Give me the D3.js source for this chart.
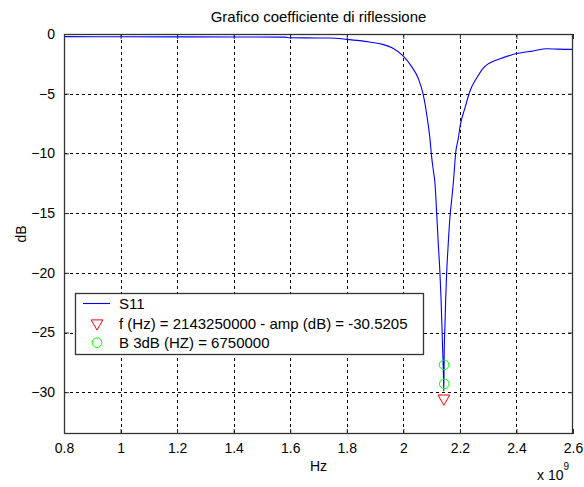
<!DOCTYPE html>
<html><head><meta charset="utf-8">
<script src="https://cdn.jsdelivr.net/npm/d3@7"></script>
<style>
html,body{margin:0;padding:0;background:#fff;}
svg{display:block;font-family:"Liberation Sans",Arial,sans-serif;}
</style></head>
<body>
<script>
// ---- data ----
const freqGHz = [0.80,1.00,1.20,1.40,1.58,1.60,1.70,1.74,1.80,1.88,1.93,1.96,2.00,2.03,2.053,2.07,2.083,2.094,2.100,2.106,2.112,2.118,2.1235,2.1295,2.133,2.1366,2.139,2.141,2.1425,2.14325,2.1447,2.1471,2.1497,2.1532,2.1589,2.1649,2.1709,2.1766,2.1862,2.1943,2.2003,2.218,2.2357,2.2594,2.2827,2.30,2.3123,2.3534,2.4008,2.4595,2.5069,2.55,2.60];
const s11dB = [-0.22,-0.23,-0.24,-0.25,-0.26,-0.32,-0.33,-0.34,-0.45,-0.67,-0.89,-1.15,-1.85,-2.75,-3.73,-5.04,-6.79,-8.74,-10.27,-11.41,-12.52,-15.03,-17.53,-20.03,-21.99,-24.49,-26.44,-27.8,-29.3,-29.9,-26.44,-24.49,-22.26,-20.03,-17.53,-15.31,-13.91,-12.52,-9.74,-8.76,-7.78,-6.19,-4.77,-3.69,-2.85,-2.50,-2.35,-1.98,-1.64,-1.42,-1.23,-1.27,-1.29];
const minFreq = [2.14325e9];
const minAmp = [-30.5205];
const bwFreq = [2.1442e9, 2.1448e9];
const bwAmp = [-27.71, -29.30];
const xTicks = [0.8,1,1.2,1.4,1.6,1.8,2,2.2,2.4,2.6];
const yTicks = [0,-5,-10,-15,-20,-25,-30];
const legendLabels = ["S11","f (Hz) = 2143250000 - amp (dB) = -30.5205","B 3dB (HZ) = 6750000"];
const titleText = "Grafico coefficiente di riflessione";

// ---- chart ----
const W=584,H=487;
const L=64,R=573,T=34,B=434;
const svg=d3.select("body").append("svg").attr("width",W).attr("height",H);
const x=d3.scaleLinear().domain([0.8e9,2.6e9]).range([L,R]);
const y=d3.scaleLinear().domain([-33.5,0]).range([B,T]);
const boxCol="#333";

// grid
const g=svg.append("g");
g.selectAll(".gx").data(xTicks.slice(1,-1)).enter().append("line")
 .attr("x1",d=>Math.round(x(d*1e9))+0.5).attr("x2",d=>Math.round(x(d*1e9))+0.5)
 .attr("y1",T).attr("y2",B).attr("stroke","#000").attr("stroke-dasharray","3,3");
g.selectAll(".gy").data(yTicks.filter(d=>d!==0)).enter().append("line")
 .attr("y1",d=>Math.round(y(d))+0.5).attr("y2",d=>Math.round(y(d))+0.5)
 .attr("x1",L).attr("x2",R).attr("stroke","#000").attr("stroke-dasharray","3,3");

// axes (inward ticks on all sides)
const fmtX=d=>d3.format("~g")(d/1e9);
const xb=d3.axisBottom(x).tickValues(xTicks.map(d=>d*1e9)).tickSizeInner(-5).tickSizeOuter(0).tickPadding(9).tickFormat(fmtX);
const xt=d3.axisTop(x).tickValues(xTicks.map(d=>d*1e9)).tickSizeInner(-5).tickSizeOuter(0).tickFormat("");
const yl=d3.axisLeft(y).tickValues(yTicks).tickSizeInner(-5).tickSizeOuter(0).tickPadding(9).tickFormat(d=>d3.format("d")(d));
const yr=d3.axisRight(y).tickValues(yTicks).tickSizeInner(-5).tickSizeOuter(0).tickFormat("");
function style(sel){sel.select(".domain").remove();sel.selectAll("line").attr("stroke",boxCol);sel.selectAll("text").attr("fill","#000").style("font-size","14px").style("font-family","Liberation Sans, Arial, sans-serif");}
svg.append("g").attr("transform",`translate(0,${B})`).call(xb).call(style);
svg.append("g").attr("transform",`translate(0,${T})`).call(xt).call(style);
svg.append("g").attr("transform",`translate(${L},0)`).call(yl).call(style);
svg.append("g").attr("transform",`translate(${R},0)`).call(yr).call(style);

// curve
const line=d3.line().curve(d3.curveMonotoneX).x((d,i)=>x(freqGHz[i]*1e9)).y((d,i)=>y(s11dB[i]));
svg.append("path").datum(s11dB).attr("d",line).attr("fill","none").attr("stroke","#0000ff").attr("stroke-width",1.1);

// markers
const tri=d3.symbol().type(d3.symbolTriangle).size(60);
svg.selectAll(".mn").data(minFreq).enter().append("path")
 .attr("d",tri).attr("transform",(d,i)=>`translate(${x(d)},${y(minAmp[i])}) rotate(180)`)
 .attr("fill","none").attr("stroke","#ff0000").attr("stroke-width",1);
svg.selectAll(".bw").data(bwFreq).enter().append("circle")
 .attr("cx",d=>x(d)).attr("cy",(d,i)=>y(bwAmp[i])).attr("r",4.8)
 .attr("fill","none").attr("stroke","#00ff00").attr("stroke-width",1);

// box
svg.append("rect").attr("x",L+0.5).attr("y",T+0.5).attr("width",R-L-1).attr("height",B-T-1)
 .attr("fill","none").attr("stroke",boxCol).attr("stroke-width",1.3);

// title & labels
svg.append("text").attr("x",(L+R)/2).attr("y",22).attr("text-anchor","middle").style("font-size","15px").text(titleText);
svg.append("text").attr("x",(L+R)/2).attr("y",471).attr("text-anchor","middle").style("font-size","14px").text("Hz");
svg.append("text").attr("transform",`translate(26,${(T+B)/2}) rotate(-90)`).attr("text-anchor","middle").style("font-size","14px").text("dB");
const ex=svg.append("text").attr("x",537).attr("y",480).style("font-size","14px");
ex.append("tspan").text("x 10");
ex.append("tspan").attr("dy",-10).style("font-size","10px").text("9");

// legend
const lg=svg.append("g");
lg.append("rect").attr("x",75.5).attr("y",293.5).attr("width",348).attr("height",61)
 .attr("fill","#fff").attr("stroke",boxCol).attr("stroke-width",1.3);
const rowY=[303.5,323.3,342.7];
lg.append("line").attr("x1",83).attr("x2",110).attr("y1",rowY[0]).attr("y2",rowY[0]).attr("stroke","#0000ff").attr("stroke-width",1.1);
lg.append("path").attr("d",tri).attr("transform",`translate(97,${rowY[1]}) rotate(180)`).attr("fill","none").attr("stroke","#ff0000");
lg.append("circle").attr("cx",97).attr("cy",rowY[2]).attr("r",4.8).attr("fill","none").attr("stroke","#00ff00");
lg.selectAll(".lt").data(legendLabels).enter().append("text")
 .attr("x",119).attr("y",(d,i)=>rowY[i]+5.3).style("font-size","15px").text(d=>d);
</script>
</body></html>
